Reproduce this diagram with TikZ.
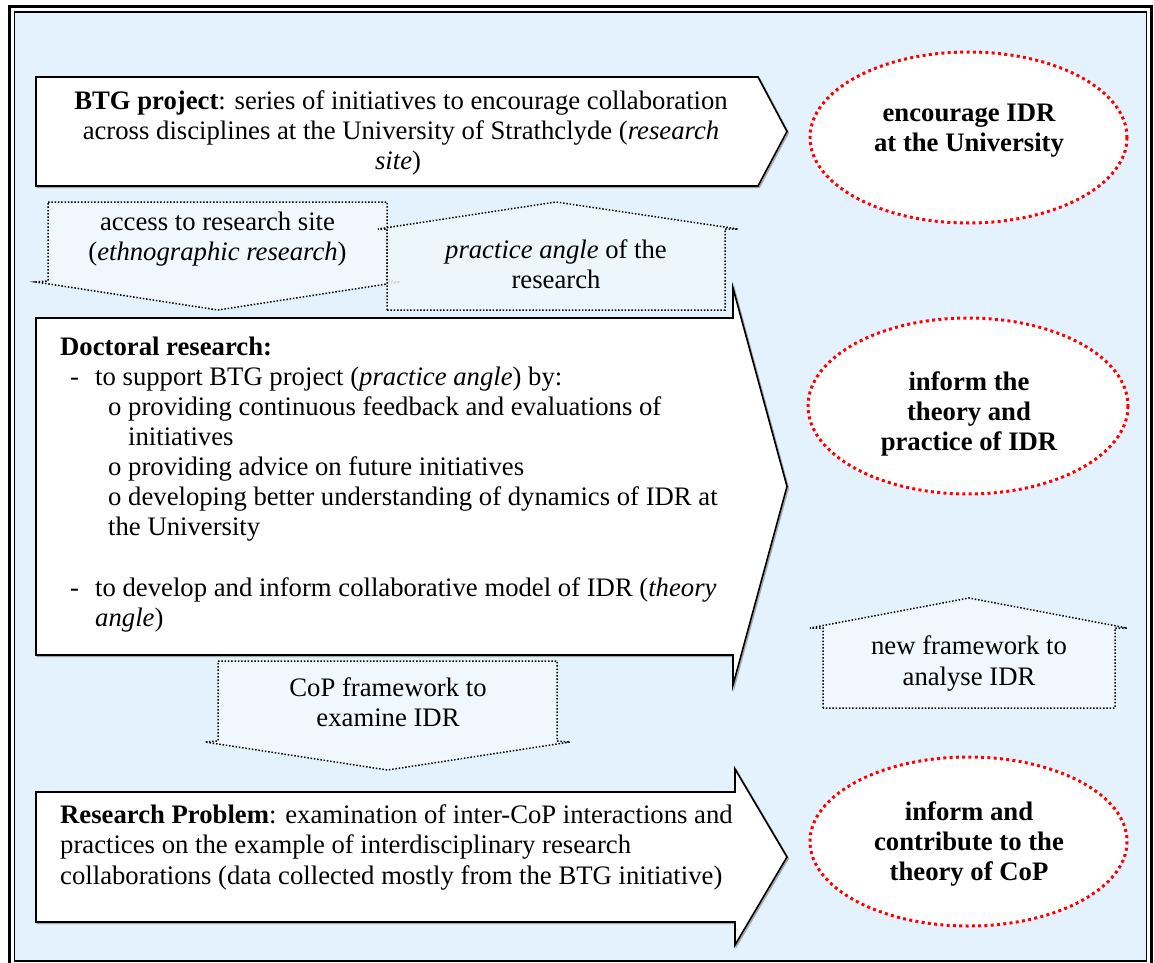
\documentclass[tikz,border=0pt]{standalone}
\usepackage{fontspec}
\setmainfont{Liberation Serif}
\definecolor{panel}{RGB}{227,242,253}
\definecolor{calloutfill}{RGB}{240,247,254}
\definecolor{goalred}{RGB}{255,0,0}

\tikzset{
  blockarrow/.style={draw=black, line width=1.6pt, fill=white, line join=miter,
    preaction={draw=black!35, line width=1.6pt,
      transform canvas={shift={(1.3pt,-1.3pt)}}}},
  callout/.style={draw=black, line width=1.5pt, dash pattern=on 1.5pt off 1.8pt,
    fill=calloutfill},
  goal/.style={draw=goalred, line width=3pt, dash pattern=on 3pt off 3.3pt, fill=white},
  txt/.style={font=\fontsize{26.7}{30}\selectfont, inner sep=0pt, anchor=base},
  ltxt/.style={txt, anchor=base west},
  gtxt/.style={txt, font=\fontsize{26.7}{30}\selectfont\bfseries},
}

\begin{document}
\begin{tikzpicture}[x=1pt, y=-1pt]
\useasboundingbox (0,0) rectangle (1154,963);
\fill[white] (0,0) rectangle (1154,963);

% double frame with the light blue panel
\draw[line width=3pt] (9.5,6.5) rectangle (1151.5,969);
\draw[line width=1.2pt, fill=panel] (14.5,12) rectangle (1146.5,961);

% block arrows
\draw[blockarrow] (36,77) -- (758,77) -- (787,131.5) -- (758,186) -- (36,186) -- cycle;
\draw[blockarrow] (36,318) -- (733,318) -- (733,288) -- (787,486.5) -- (733,685)
  -- (733,655) -- (36,655) -- cycle;
\draw[blockarrow] (36,792) -- (735,792) -- (735,769) -- (787,857) -- (735,945)
  -- (735,922) -- (36,922) -- cycle;

% callouts
\draw[callout] (48,202) -- (387,202) -- (387,281) -- (400,282) -- (218,310)
  -- (36,282) -- (48,281) -- cycle;
\draw[callout, fill opacity=0.85] (387,310) -- (387,229) -- (378,229) -- (556,202)
  -- (738,229) -- (725,229) -- (725,310) -- cycle;
\draw[callout] (218,661) -- (557,661) -- (557,741) -- (570,742) -- (387.5,770)
  -- (205,742) -- (218,741) -- cycle;
\draw[callout] (823,708) -- (823,628) -- (810,628) -- (969,598) -- (1127,628)
  -- (1115,628) -- (1115,708) -- cycle;

% goals
\draw[goal] (968.5,137.5) ellipse [x radius=158.5, y radius=85.5];
\draw[goal] (968,406) ellipse [x radius=160, y radius=88];
\draw[goal] (968.5,841.5) ellipse [x radius=158.5, y radius=84.5];

% BTG project
\node[txt] (btg1) at (401,110) {\textbf{BTG project}: series of initiatives to encourage collaboration};
\node[txt] (btg2) at (401,140) {across disciplines at the University of Strathclyde (\textit{research}};
\node[txt] (btg3) at (398,170) {\textit{site})};

% callout labels
\node[txt] (acc1) at (217.5,230) {access to research site};
\node[txt] (acc2) at (217.5,260) {(\textit{ethnographic research})};
\node[txt] (prac1) at (556,258) {\textit{practice angle} of the};
\node[txt] (prac2) at (556,288) {research};
\node[txt] (cop1) at (388,696) {CoP framework to};
\node[txt] (cop2) at (388,726) {examine IDR};
\node[txt] (new1) at (969,654) {new framework to};
\node[txt] (new2) at (969,685) {analyse IDR};

% doctoral research
\node[ltxt] (doc1) at (60,355) {\textbf{Doctoral research:}};
\node[ltxt] (doc2) at (70,385) {\makebox[25pt][l]{-}to support BTG project (\textit{practice angle}) by:};
\node[ltxt] (doc3) at (108,415) {\makebox[20pt][l]{o}providing continuous feedback and evaluations of};
\node[ltxt] (doc4) at (128,445) {initiatives};
\node[ltxt] (doc5) at (108,475) {\makebox[20pt][l]{o}providing advice on future initiatives};
\node[ltxt] (doc6) at (108,505) {\makebox[20pt][l]{o}developing better understanding of dynamics of IDR at};
\node[ltxt] (doc7) at (108,535) {the University};
\node[ltxt] (doc8) at (70,596) {\makebox[25pt][l]{-}to develop and inform collaborative model of IDR (\textit{theory}};
\node[ltxt] (doc9) at (95,626) {\textit{angle})};

% research problem
\node[ltxt] (rp1) at (60,823) {\textbf{Research Problem}: examination of inter-CoP interactions and};
\node[ltxt] (rp2) at (60,853) {practices on the example of interdisciplinary research};
\node[ltxt] (rp3) at (60,884) {collaborations (data collected mostly from the BTG initiative)};

% goal labels
\node[gtxt] (g1a) at (969,122) {encourage IDR};
\node[gtxt] (g1b) at (969,152) {at the University};
\node[gtxt] (g2a) at (969,390) {inform the};
\node[gtxt] (g2b) at (969,420) {theory and};
\node[gtxt] (g2c) at (969,450) {practice of IDR};
\node[gtxt] (g3a) at (969,820) {inform and};
\node[gtxt] (g3b) at (969,850) {contribute to the};
\node[gtxt] (g3c) at (969,880) {theory of CoP};
\end{tikzpicture}
\end{document}
